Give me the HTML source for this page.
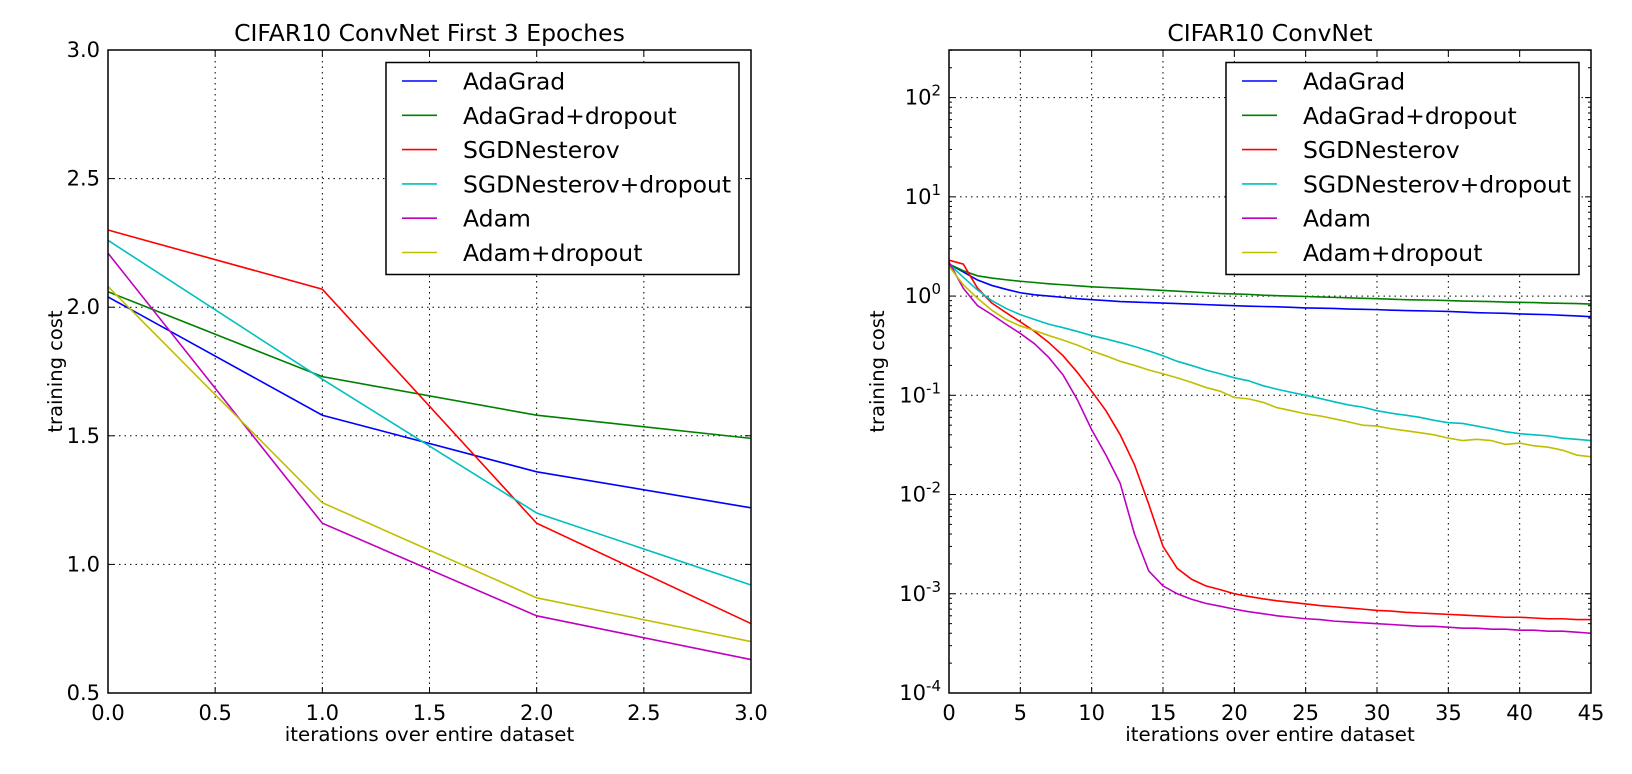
<!DOCTYPE html>
<html><head><meta charset="utf-8"><style>
body{margin:0;background:#fff;}
svg{display:block;font-family:"DejaVu Sans","Liberation Sans",sans-serif;}
</style></head><body>
<svg id="c" width="1632" height="774"></svg>
<script>
const seriesNames=["AdaGrad","AdaGrad+dropout","SGDNesterov","SGDNesterov+dropout","Adam","Adam+dropout"];
const colors=["#0000ff","#008000","#ff0000","#00bfbf","#bf00bf","#bfbf00"];
const leftX=[0,1,2,3];
const leftAdaGrad=[2.04,1.58,1.36,1.22];
const leftAdaGradDrop=[2.06,1.73,1.58,1.49];
const leftSGD=[2.30,2.07,1.16,0.77];
const leftSGDDrop=[2.26,1.72,1.20,0.92];
const leftAdam=[2.21,1.16,0.80,0.63];
const leftAdamDrop=[2.08,1.24,0.87,0.70];
const leftXTicks=["0.0","0.5","1.0","1.5","2.0","2.5","3.0"];
const leftYTicks=["0.5","1.0","1.5","2.0","2.5","3.0"];
const rAdaGrad=[2.1,1.75,1.45,1.28,1.17,1.08,1.03,1.0,0.97,0.94,0.92,0.9,0.88,0.87,0.86,0.85,0.84,0.83,0.82,0.81,0.80,0.79,0.785,0.78,0.77,0.76,0.755,0.75,0.74,0.735,0.73,0.72,0.715,0.71,0.705,0.70,0.69,0.68,0.675,0.67,0.66,0.655,0.65,0.64,0.63,0.62];
const rAdaGradDrop=[2.1,1.8,1.6,1.52,1.46,1.41,1.37,1.33,1.3,1.27,1.24,1.22,1.2,1.18,1.16,1.14,1.12,1.1,1.08,1.06,1.05,1.04,1.02,1.01,1.0,0.99,0.98,0.97,0.96,0.95,0.94,0.93,0.92,0.915,0.91,0.9,0.89,0.885,0.88,0.87,0.865,0.86,0.85,0.845,0.84,0.83];
const rSGD=[2.3,2.1,1.2,0.85,0.68,0.55,0.44,0.34,0.25,0.17,0.11,0.07,0.04,0.02,0.008,0.003,0.0018,0.0014,0.0012,0.0011,0.001,0.00094,0.00089,0.00085,0.00082,0.00079,0.00076,0.00074,0.00072,0.0007,0.00068,0.00067,0.00065,0.00064,0.00063,0.00062,0.00061,0.0006,0.00059,0.00058,0.00058,0.00057,0.00056,0.00056,0.00055,0.00055];
const rSGDDrop=[2.1,1.55,1.15,0.9,0.75,0.65,0.58,0.52,0.48,0.44,0.4,0.37,0.34,0.31,0.28,0.25,0.22,0.2,0.18,0.165,0.15,0.14,0.125,0.115,0.107,0.1,0.093,0.086,0.08,0.076,0.07,0.066,0.063,0.06,0.056,0.053,0.052,0.049,0.046,0.043,0.041,0.04,0.039,0.037,0.036,0.035];
const rAdam=[2.2,1.2,0.8,0.65,0.52,0.42,0.33,0.24,0.16,0.09,0.045,0.025,0.013,0.004,0.0017,0.0012,0.001,0.00088,0.0008,0.00075,0.0007,0.00066,0.00063,0.0006,0.00058,0.00056,0.00055,0.00053,0.00052,0.00051,0.0005,0.00049,0.00048,0.00047,0.00047,0.00046,0.00045,0.00045,0.00044,0.00044,0.00043,0.00043,0.00042,0.00042,0.00041,0.0004];
const rAdamDrop=[2.0,1.3,0.95,0.72,0.58,0.5,0.45,0.4,0.36,0.32,0.28,0.25,0.22,0.2,0.18,0.165,0.15,0.135,0.12,0.11,0.095,0.092,0.085,0.075,0.07,0.065,0.062,0.058,0.054,0.05,0.049,0.046,0.044,0.042,0.04,0.037,0.035,0.036,0.035,0.032,0.033,0.031,0.03,0.028,0.025,0.024];
const rightXTicks=["0","5","10","15","20","25","30","35","40","45"];
const rightYExps=[-4,-3,-2,-1,0,1,2];

const svg=document.getElementById('c');
const NS="http://www.w3.org/2000/svg";
function mk(tag,attrs,parent,text){const e=document.createElementNS(NS,tag);for(const k in attrs)e.setAttribute(k,attrs[k]);if(text!==undefined)e.textContent=text;(parent||svg).appendChild(e);return e;}

function drawPanel(o){
  const g=mk('g',{});
  
  
  const {L,R,T,B}=o;
  o.xt.forEach((t,i)=>{const x=o.sx(o.xv[i]);
    if(i>0&&i<o.xt.length-1){const gl=mk('line',{x1:x,x2:x,y1:T,y2:B,stroke:'#000','stroke-width':1,'stroke-dasharray':'1.5,4'},g);}
    mk('line',{x1:x,x2:x,y1:B,y2:B-6,stroke:'#000'},g);mk('line',{x1:x,x2:x,y1:T,y2:T+6,stroke:'#000'},g);
    const tl=mk('text',{x:x,y:B+27,'text-anchor':'middle','font-size':21},g,t);});
  o.yticks.forEach(tk=>{const y=o.sy(tk.v);
    if(tk.grid){const gl=mk('line',{x1:L,x2:R,y1:y,y2:y,stroke:'#000','stroke-width':1,'stroke-dasharray':'1.5,4'},g);}
    mk('line',{x1:L,x2:L+6,y1:y,y2:y,stroke:'#000'},g);mk('line',{x1:R,x2:R-6,y1:y,y2:y,stroke:'#000'},g);
    const tl=mk('text',{x:L-8,y:y+7,'text-anchor':'end','font-size':21},g);
    if(tk.exp!==undefined){tl.textContent='10';mk('tspan',{dy:-9,'font-size':15},tl,String(tk.exp));}else tl.textContent=tk.label;});
  if(o.minor)o.minor.forEach(v=>{const y=o.sy(v);mk('line',{x1:L,x2:L+3,y1:y,y2:y,stroke:'#000'},g);mk('line',{x1:R,x2:R-3,y1:y,y2:y,stroke:'#000'},g);});
  o.data.forEach((arr,k)=>{const d=arr.map((v,i)=>(i?'L':'M')+o.sx(o.xs[i]).toFixed(2)+','+o.sy(v).toFixed(2)).join('');
    const p=mk('path',{d:d,fill:'none',stroke:colors[k],'stroke-width':1.6},g);
    
    });
  const fr=mk('rect',{x:L,y:T,width:R-L,height:B-T,fill:'none',stroke:'#000','stroke-width':1.5},g);
  
  const tt=mk('text',{x:(L+R)/2,y:T-9,'text-anchor':'middle','font-size':23.5},g,o.title);
  
  const xl=mk('text',{x:(L+R)/2,y:B+48,'text-anchor':'middle','font-size':19.8},g,'iterations over entire dataset');
  
  const yl=mk('text',{x:0,y:0,'text-anchor':'middle','font-size':19.5,transform:`translate(${o.ylx},${(T+B)/2}) rotate(-90)`},g,'training cost');
  
  const lg=mk('g',{},g);
  const lx=R-365,ly=T+12.5;
  mk('rect',{x:lx,y:ly,width:353,height:212,fill:'#fff',stroke:'#000','stroke-width':1.5},lg);
  seriesNames.forEach((n,k)=>{const cy=ly+18.5+k*34.3;
    const e=mk('g',{},lg);
    mk('line',{x1:lx+16,x2:lx+51,y1:cy,y2:cy,stroke:colors[k],'stroke-width':1.6},e);
    mk('text',{x:lx+77,y:cy+8.5,'font-size':23.5},e,n);});
}
{const L=108,R=751,T=50,B=693;
 drawPanel({name:'left-panel',L,R,T,B,title:'CIFAR10 ConvNet First 3 Epoches',ylx:62,
  sx:v=>L+(v-0)/3*(R-L), sy:v=>B-(v-0.5)/2.5*(B-T),
  xt:leftXTicks,xv:leftXTicks.map(Number),
  yticks:leftYTicks.map(t=>({v:Number(t),label:t,grid:t!=="0.5"&&t!=="3.0"})),
  xs:leftX,data:[leftAdaGrad,leftAdaGradDrop,leftSGD,leftSGDDrop,leftAdam,leftAdamDrop]});}
{const L=949,R=1591,T=50,B=693;const dec=(B-97.6)/6;
 const minor=[];for(let e=-4;e<=2;e++)for(let m=2;m<=9;m++){const v=m*Math.pow(10,e);if(Math.log10(v)<2.48)minor.push(v);}
 drawPanel({name:'right-panel',L,R,T,B,title:'CIFAR10 ConvNet',ylx:884,
  sx:v=>L+v/45*(R-L), sy:v=>B-(Math.log10(v)+4)*dec,
  xt:rightXTicks,xv:rightXTicks.map(Number),
  yticks:rightYExps.map(e=>({v:Math.pow(10,e),exp:e,grid:e>-4})),minor,
  xs:rAdaGrad.map((_,i)=>i),data:[rAdaGrad,rAdaGradDrop,rSGD,rSGDDrop,rAdam,rAdamDrop]});}
</script>
</body></html>
